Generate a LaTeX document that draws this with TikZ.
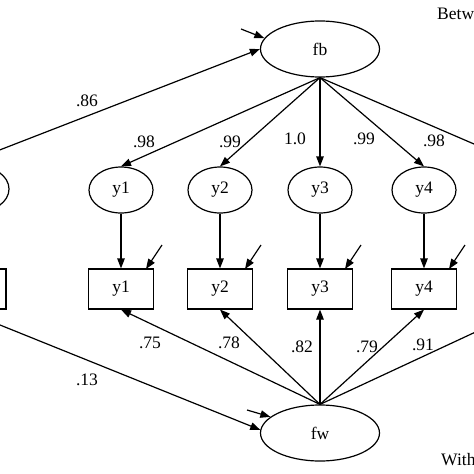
\documentclass[tikz,border=0pt]{standalone}
\usepackage{fontspec}
\setmainfont{Liberation Serif}
\usetikzlibrary{shapes.geometric,arrows.meta}
\begin{document}
\begin{tikzpicture}[x=1pt,y=-1pt,
  every node/.style={font=\fontsize{17.5}{19}\selectfont},
  lat/.style={draw,ellipse,line width=1.2pt,minimum width=119pt,minimum height=56pt,inner sep=0pt},
  ind/.style={draw,ellipse,line width=1.2pt,minimum width=64pt,minimum height=46pt,inner sep=0pt},
  obs/.style={draw,rectangle,line width=1.2pt,minimum width=65pt,minimum height=40pt,inner sep=0pt},
  arr/.style={line width=1.2pt,-{Triangle[length=10pt,width=7.5pt]}},
  ln/.style={line width=1.2pt},
  lbl/.style={inner sep=0pt}]
\useasboundingbox (0,0) rectangle (474,474);
\clip (0,0) rectangle (474,474);
% latent factors
\node[lat] (fb) at (320,49) {fb};
\node[lat] (fw) at (320,433) {fw};
% left covariate (cut off)
\node[ind] (x0) at (-23,189) {};
\node[obs] (r0) at (-26.5,289) {};
% indicators
\foreach \i/\x in {1/121,2/220,3/320,4/424}{
  \node[ind] (e\i) at (\x,190) {y\i};
  \node[obs] (r\i) at (\x,289) {y\i};
  \coordinate (u\i) at (\x+41,245);
  \coordinate (v\i) at (\x+25,269);
  \draw[arr] (e\i.south) -- (r\i.north);
  \draw[arr] (u\i) -- (v\i);
  \draw[arr] (fb.south) -- (e\i.north);
  \draw[arr] (fw.north) -- (r\i.south);
}
% fifth indicator off canvas
\coordinate (e5n) at (525,166);
\coordinate (r5s) at (525,309);
\draw[ln] (fb.south) -- (e5n);
\draw[ln] (fw.north) -- (r5s);
% paths from left
\coordinate (p86) at (-30,161.5);
\coordinate (p13) at (-30,312.9);
\draw[arr] (p86) -- (fb.west);
\draw[arr] (p13) -- (fw.177);
% residual arrows on factors
\coordinate (dfb) at (241,29);
\coordinate (dfw) at (247,410);
\draw[arr] (dfb) -- (fb.169);
\draw[arr] (dfw) -- (fw.162);
% labels
\node[lbl] (l86) at (87,101) {.86};
\node[lbl] (la1) at (144,142) {.98};
\node[lbl] (la2) at (230,142) {.99};
\node[lbl] (la3) at (295,139) {1.0};
\node[lbl] (la4) at (364,139) {.99};
\node[lbl] (la5) at (434,141) {.98};
\node[lbl] (lb1) at (150,343) {.75};
\node[lbl] (lb2) at (229,343) {.78};
\node[lbl] (lb3) at (302,347) {.82};
\node[lbl] (lb4) at (367,347) {.79};
\node[lbl] (lb5) at (423,345) {.91};
\node[lbl] (l13) at (87,380) {.13};
\node[lbl,anchor=base west] (betw) at (437,19) {Betw};
\node[lbl,anchor=base west] (with) at (441,465) {With};
\end{tikzpicture}
\end{document}
